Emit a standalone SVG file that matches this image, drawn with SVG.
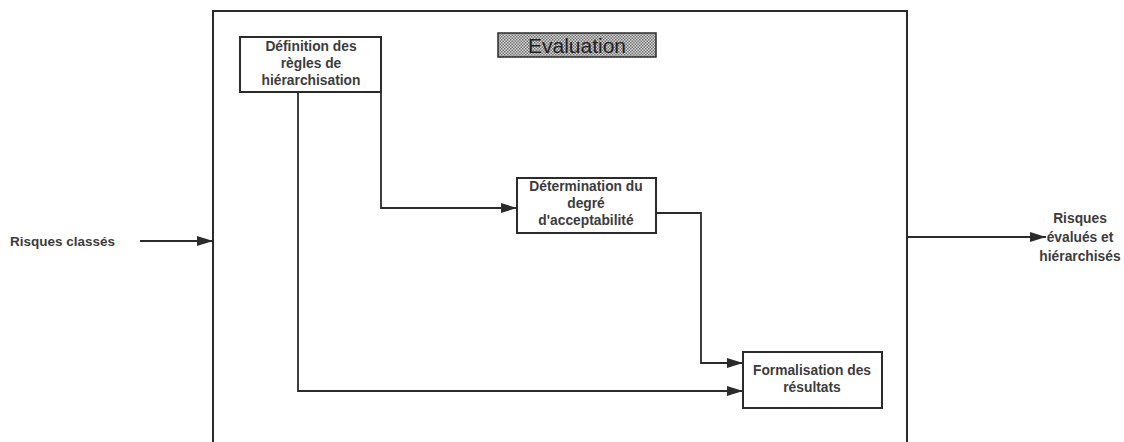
<svg xmlns="http://www.w3.org/2000/svg" width="1124" height="442" viewBox="0 0 1124 442">
  <style>
    .box { fill: #ffffff; stroke: #2b2b2b; stroke-width: 2; }
    .frame { fill: none; stroke: #2b2b2b; stroke-width: 2; }
    .wire { fill: none; stroke: #2b2b2b; stroke-width: 1.8; }
    .lbl { font-family: "Liberation Sans", Arial, sans-serif; font-size: 13.8px; font-weight: bold; fill: #3c3c3c; text-anchor: middle; }
    .side { font-family: "Liberation Sans", Arial, sans-serif; font-size: 13.5px; font-weight: bold; fill: #3c3c3c; }
    .title { font-family: "Liberation Sans", Arial, sans-serif; font-size: 21px; fill: #222222; text-anchor: middle; }
  </style>
  <defs>
    <pattern id="checker" width="3" height="3" patternUnits="userSpaceOnUse">
      <rect width="3" height="3" fill="#d8d8d8"/>
      <rect width="1.5" height="1.5" fill="#707070"/>
      <rect x="1.5" y="1.5" width="1.5" height="1.5" fill="#707070"/>
    </pattern>
    <marker id="arrow" viewBox="0 0 16 10" refX="16" refY="5" markerWidth="16" markerHeight="10" markerUnits="userSpaceOnUse" orient="auto">
      <path d="M0,0 L16,5 L0,10 Z" fill="#2b2b2b"/>
    </marker>
  </defs>

  <rect width="1124" height="442" fill="#ffffff"/>

  <!-- process frame (open at the bottom) -->
  <g id="frame">
    <path class="frame" d="M213,442 V11 H907 V442"/>
  </g>

  <!-- title -->
  <g id="title">
    <rect x="498" y="33" width="158" height="24" fill="url(#checker)" stroke="#2b2b2b" stroke-width="1.5"/>
    <text class="title" x="577" y="53">Evaluation</text>
  </g>

  <!-- connectors -->
  <g id="connectors">
    <path class="wire" d="M140,241 H213" marker-end="url(#arrow)"/>
    <path class="wire" d="M907,237 H1046" marker-end="url(#arrow)"/>
    <path class="wire" d="M381,92 V208 H517" marker-end="url(#arrow)"/>
    <path class="wire" d="M298,92 V391 H743" marker-end="url(#arrow)"/>
    <path class="wire" d="M656,213 H701 V363 H743" marker-end="url(#arrow)"/>
  </g>

  <g id="node-regles">
    <rect class="box" x="240" y="37" width="141" height="55"/>
    <text class="lbl" x="311" y="51">Définition des</text>
    <text class="lbl" x="311" y="68">règles de</text>
    <text class="lbl" x="311" y="85">hiérarchisation</text>
  </g>

  <g id="node-acceptabilite">
    <rect class="box" x="517" y="178" width="139" height="55"/>
    <text class="lbl" x="586" y="191">Détermination du</text>
    <text class="lbl" x="586" y="208">degré</text>
    <text class="lbl" x="586" y="225">d'acceptabilité</text>
  </g>

  <g id="node-formalisation">
    <rect class="box" x="743" y="352" width="139" height="56"/>
    <text class="lbl" x="812" y="375">Formalisation des</text>
    <text class="lbl" x="812" y="392">résultats</text>
  </g>

  <g id="input-label">
    <text class="side" x="10" y="246">Risques classés</text>
  </g>

  <g id="output-label">
    <text class="lbl" x="1080" y="223">Risques</text>
    <text class="lbl" x="1080" y="242">évalués et</text>
    <text class="lbl" x="1080" y="261">hiérarchisés</text>
  </g>
</svg>
